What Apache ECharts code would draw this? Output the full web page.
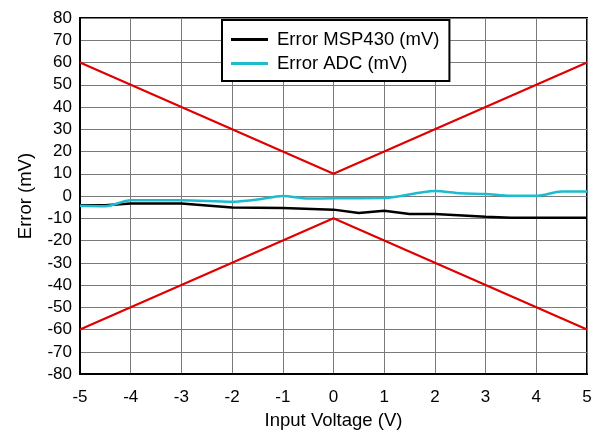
<!DOCTYPE html>
<html>
<head>
<meta charset="utf-8">
<script src="https://cdn.jsdelivr.net/npm/echarts@6/dist/echarts.min.js"></script>
<style>html,body{margin:0;padding:0;background:#fff}#c{width:606px;height:435px}</style>
</head>
<body>
<div id="c"></div>
<script>
var xTicks = [-5, -4, -3, -2, -1, 0, 1, 2, 3, 4, 5];
var yTicks = [-80, -70, -60, -50, -40, -30, -20, -10, 0, 10, 20, 30, 40, 50, 60, 70, 80];

var msp430X = [-5, -4.5, -4, -3, -2, -1, 0, 0.5, 1, 1.5, 2, 3, 3.5, 4, 4.5, 5];
var msp430Y = [-4.1, -4.1, -3.3, -3.3, -5.1, -5.4, -6.1, -7.6, -6.6, -8.1, -8.1, -9.3, -9.7, -9.7, -9.7, -9.7];

var adcX = [-5, -4.5, -4, -3, -2, -1.5, -1, -0.5, 0, 1, 2, 2.5, 3, 3.5, 4, 4.5, 5];
var adcY = [-4.4, -4.6, -1.9, -1.9, -2.6, -1.6, 0, -1.1, -1, -0.9, 2.3, 1.3, 0.9, 0.1, 0.1, 2, 2];

var limitX = [-5, 0, 5];
var upperLimitY = [60, 10, 60];
var lowerLimitY = [-60, -10, -60];

function pairs(xs, ys) { return xs.map(function (x, i) { return [x, ys[i]]; }); }

var chart = echarts.init(document.getElementById('c'), null, { renderer: 'canvas' });
var font = 'Arial, "Liberation Sans", sans-serif';
chart.setOption({
  animation: false,
  backgroundColor: '#fff',
  grid: { left: 80, right: 19, top: 18, bottom: 56, show: true, borderColor: '#000', borderWidth: 2, backgroundColor: 'transparent' },
  legend: {
    left: 222, top: 20, itemGap: 5,
    orient: 'vertical',
    padding: [10, 10, 8, 9],
    backgroundColor: '#fff', borderColor: '#000', borderWidth: 2,
    itemWidth: 37, itemHeight: 3,
    data: [
      { name: 'Error MSP430 (mV)', icon: 'rect', itemStyle: { color: '#000' } },
      { name: 'Error ADC (mV)', icon: 'rect', itemStyle: { color: '#1BBCCF' } }
    ],
    textStyle: { fontFamily: font, fontSize: 18.5, color: '#000', padding: [0, 0, 0, 4] }
  },
  xAxis: {
    type: 'value', min: -5, max: 5, interval: 1,
    name: 'Input Voltage (V)', nameLocation: 'middle', nameGap: 35,
    nameTextStyle: { fontFamily: font, fontSize: 18.5, color: '#000' },
    axisLine: { show: true, onZero: false, lineStyle: { color: '#000', width: 2 } },
    axisTick: { show: false },
    axisLabel: { fontFamily: font, fontSize: 17, color: '#000', margin: 15,
      formatter: function (v) { return xTicks.indexOf(v) >= 0 ? String(v) : ''; } },
    splitLine: { show: true, lineStyle: { color: '#7a7a7a', width: 1 } }
  },
  yAxis: {
    type: 'value', min: -80, max: 80, interval: 10,
    name: 'Error (mV)', nameLocation: 'middle', nameGap: 45,
    nameTextStyle: { fontFamily: font, fontSize: 18.5, color: '#000' },
    axisLine: { show: true, onZero: false, lineStyle: { color: '#000', width: 2 } },
    axisTick: { show: false },
    axisLabel: { fontFamily: font, fontSize: 17, color: '#000', margin: 8,
      formatter: function (v) { return yTicks.indexOf(v) >= 0 ? String(v) : ''; } },
    splitLine: { show: true, lineStyle: { color: '#7a7a7a', width: 1 } }
  },
  series: [
    { name: 'upper', type: 'line', data: pairs(limitX, upperLimitY), showSymbol: false, lineStyle: { color: '#E00000', width: 2.2 }, z: 2 },
    { name: 'lower', type: 'line', data: pairs(limitX, lowerLimitY), showSymbol: false, lineStyle: { color: '#E00000', width: 2.2 }, z: 2 },
    { name: 'Error MSP430 (mV)', type: 'line', data: pairs(msp430X, msp430Y), showSymbol: false, color: '#000', lineStyle: { color: '#000', width: 2.5 }, z: 3 },
    { name: 'Error ADC (mV)', type: 'line', data: pairs(adcX, adcY), showSymbol: false, smooth: 0.3, color: '#1BBCCF', lineStyle: { color: '#1BBCCF', width: 2.5 }, z: 4 }
  ]
});
</script>
</body>
</html>
